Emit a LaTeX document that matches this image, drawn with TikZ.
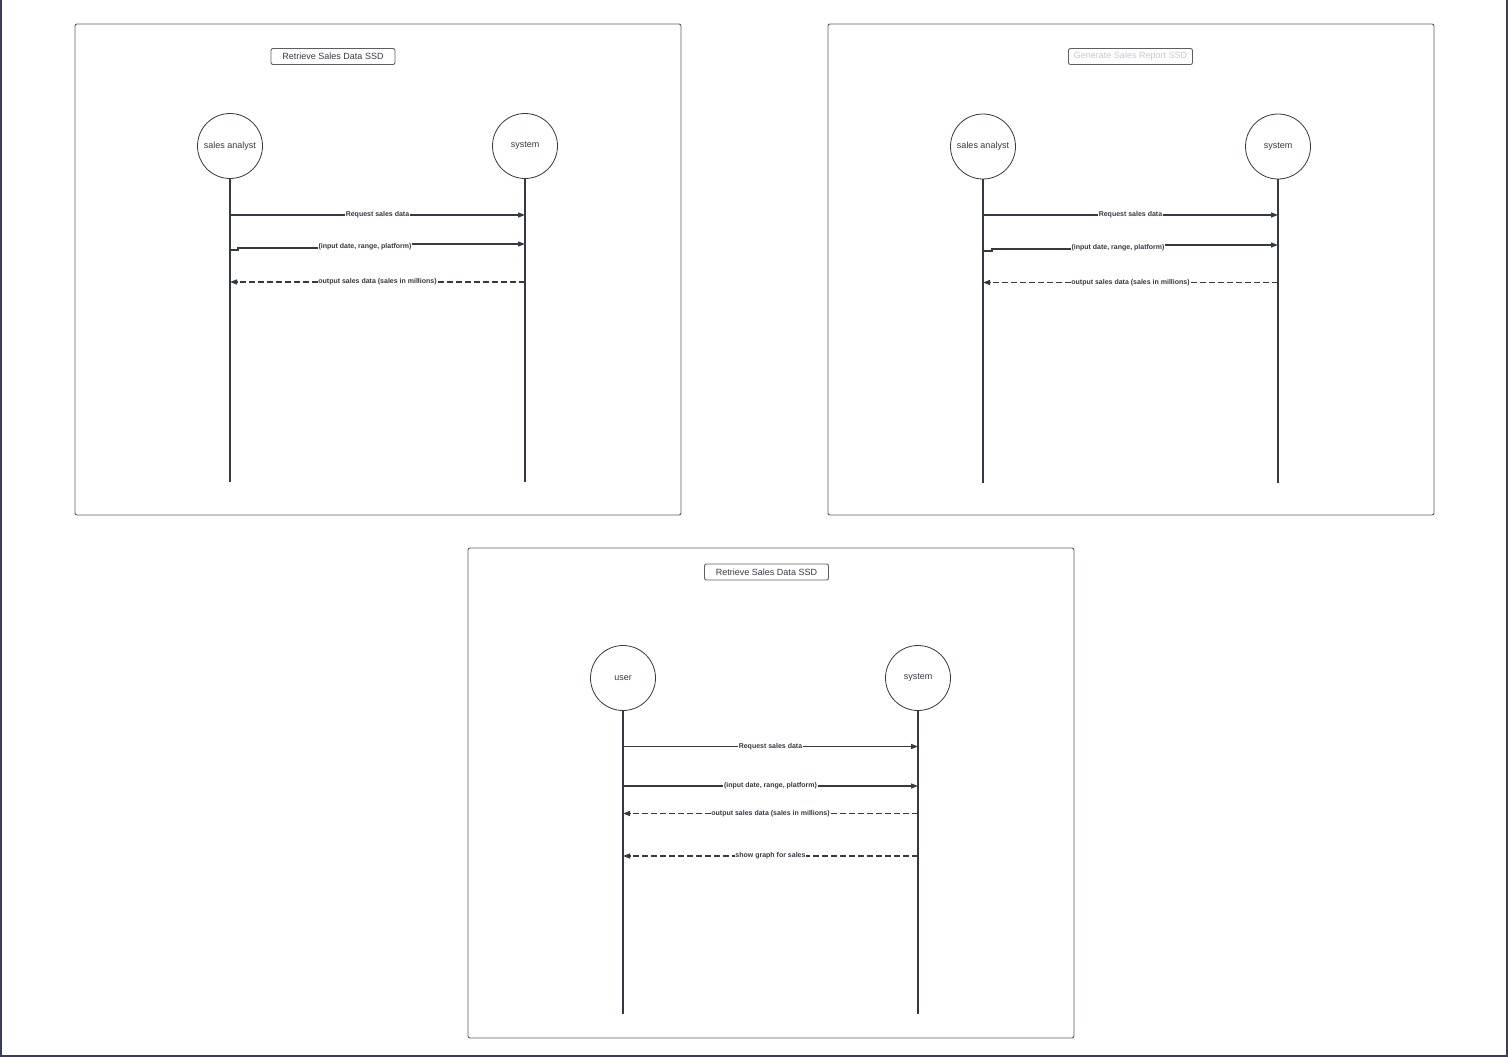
\documentclass[tikz,border=0pt]{standalone}
\usepackage{fontspec}
\setmainfont{Liberation Sans}
\usetikzlibrary{
  arrows.meta,
  positioning,
  calc
}
\definecolor{inkgray}{RGB}{52,57,68}
\definecolor{framegray}{RGB}{92,94,100}
\definecolor{edgenavy}{RGB}{58,60,92}
\definecolor{fadedgray}{RGB}{196,199,206}

\begin{document}
\begin{tikzpicture}[x=1pt, y=-1pt,
    ssdframe/.style={draw=framegray, line width=0.9pt, rounded corners=2pt},
    titlebox/.style={draw=framegray, line width=0.9pt, rounded corners=2pt, minimum width=124pt, minimum height=16pt, inner sep=0pt, text=inkgray, font=\fontsize{9}{10}\selectfont},
    actor/.style={circle, draw=inkgray, line width=0.8pt, minimum size=65pt, inner sep=0pt, text=inkgray, font=\fontsize{9}{10}\selectfont},
    lifeline/.style={draw=inkgray, line width=1.3pt},
    callmsg/.style={draw=inkgray, line width=1.3pt, -{Triangle[length=7pt, width=5pt]}},
    returnmsg/.style={callmsg, dash pattern=on 6pt off 3pt},
    msglabel/.style={fill=white, inner sep=0.6pt, text=inkgray, font=\bfseries\fontsize{7}{8}\selectfont}]
  \useasboundingbox (0,0) rectangle (1508,1057);
  % page edge (left, bottom, right)
  \draw[edgenavy, line width=2pt] (1,0) -- (1,1056) -- (1507,1056) -- (1507,0);

  % ---- top left: Retrieve Sales Data SSD
  \draw[ssdframe] (75,24) rectangle (681,515);
  \node[titlebox] (titleA) at (333,56.5) {Retrieve Sales Data SSD};
  \node[actor] (analystA) at (230,146) {sales analyst};
  \node[actor] (systemA) at (525,146) {system};
  \coordinate (analystA-end) at (230,482);
  \coordinate (systemA-end) at (525,482);
  \draw[lifeline] (analystA) -- (analystA-end);
  \draw[lifeline] (systemA) -- (systemA-end);
  \draw[callmsg] (analystA |- 0,215) -- node[msglabel] (reqA) {Request sales data} (systemA |- 0,215);
  \draw[callmsg] (analystA |- 0,250) -- ++(8,0) -- ++(0,-2) -- (365,248) -- (365,244) -- (systemA |- 0,244);
  \node[msglabel] (inA) at (365,246.5) {(input date, range, platform)};
  \draw[returnmsg] (systemA |- 0,282) -- node[msglabel] (outA) {output sales data (sales in millions)} (analystA |- 0,282);

  % ---- top right: Generate Sales Report SSD
  \draw[ssdframe] (828,24) rectangle (1434,515);
  \node[titlebox, text=fadedgray] (titleB) at (1130.5,56.5) {Generate Sales Report SSD};
  \node[actor] (analystB) at (983,146.5) {sales analyst};
  \node[actor] (systemB) at (1278,146.5) {system};
  \coordinate (analystB-end) at (983,483);
  \coordinate (systemB-end) at (1278,483);
  \draw[lifeline] (analystB) -- (analystB-end);
  \draw[lifeline] (systemB) -- (systemB-end);
  \draw[callmsg] (analystB |- 0,215) -- node[msglabel] (reqB) {Request sales data} (systemB |- 0,215);
  \draw[callmsg] (analystB |- 0,251) -- ++(9,0) -- ++(0,-2) -- (1118,249) -- (1118,245) -- (systemB |- 0,245);
  \node[msglabel] (inB) at (1118,247.5) {(input date, range, platform)};
  \draw[returnmsg] (systemB |- 0,282.5) -- node[msglabel] (outB) {output sales data (sales in millions)} (analystB |- 0,282.5);

  % ---- bottom: Retrieve Sales Data SSD (user)
  \draw[ssdframe] (468,548) rectangle (1074,1038);
  \node[titlebox] (titleC) at (766.5,572) {Retrieve Sales Data SSD};
  \node[actor] (userC) at (623,678) {user};
  \node[actor] (systemC) at (918,678) {system};
  \coordinate (userC-end) at (623,1014);
  \coordinate (systemC-end) at (918,1014);
  \draw[lifeline] (userC) -- (userC-end);
  \draw[lifeline] (systemC) -- (systemC-end);
  \draw[callmsg] (userC |- 0,746.5) -- node[msglabel] (reqC) {Request sales data} (systemC |- 0,746.5);
  \draw[callmsg] (userC |- 0,786) -- node[msglabel] (inC) {(input date, range, platform)} (systemC |- 0,786);
  \draw[returnmsg] (systemC |- 0,813.5) -- node[msglabel] (outC) {output sales data (sales in millions)} (userC |- 0,813.5);
  \draw[returnmsg] (systemC |- 0,856) -- node[msglabel] (graphC) {show graph for sales} (userC |- 0,856);
\end{tikzpicture}
\end{document}
